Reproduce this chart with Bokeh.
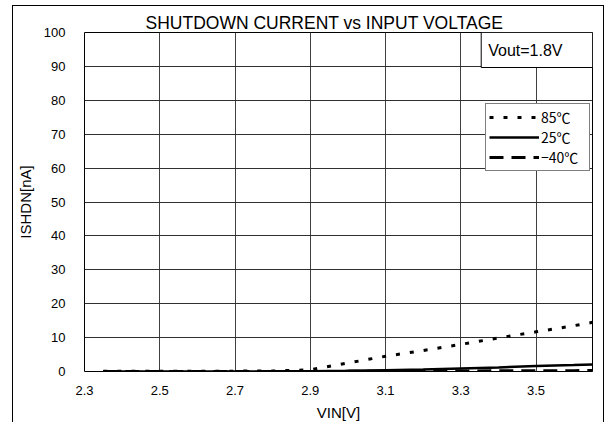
from bokeh.plotting import figure
from bokeh.models import Label, Legend, LegendItem, FixedTicker
from bokeh.embed import file_html
from bokeh.resources import INLINE

# ---- data ----
vin = [2.35, 2.4, 2.5, 2.6, 2.7, 2.8, 2.9, 3.0, 3.1, 3.2, 3.3, 3.4, 3.5, 3.6, 3.65]
ishdn_85 = [0.1, 0.1, 0.1, 0.1, 0.1, 0.15, 0.5, 2.5, 4.5, 6.2, 8.0, 9.9, 11.7, 13.5, 14.5]
ishdn_25 = [0.0, 0.0, 0.0, 0.0, 0.0, 0.05, 0.1, 0.2, 0.4, 0.6, 0.9, 1.2, 1.6, 1.9, 2.1]
ishdn_m40 = [0.0, 0.0, 0.0, 0.0, 0.0, 0.0, 0.0, 0.05, 0.1, 0.1, 0.15, 0.2, 0.2, 0.25, 0.3]
series_labels = ["85℃", "25℃", "−40℃"]
x_ticks = [2.3, 2.5, 2.7, 2.9, 3.1, 3.3, 3.5]
y_ticks = [0, 10, 20, 30, 40, 50, 60, 70, 80, 90, 100]
x_lim = (2.3, 3.65)
y_lim = (0, 100)
title_text = "SHUTDOWN CURRENT vs INPUT VOLTAGE"
note_text = "Vout=1.8V"

FONT = "Liberation Sans"
JP = "Noto Sans CJK JP"

W, H = 592, 417
ML, MR, MT, MB = 69, 13, 26, 52

p = figure(width=W, height=H, x_range=x_lim, y_range=y_lim,
           output_backend="svg", toolbar_location=None,
           min_border_left=ML, min_border_right=MR,
           min_border_top=MT, min_border_bottom=MB)
# outer chart border drawn by the page element around the canvas
p.styles = {"margin-left": "12px", "margin-top": "5px",
            "border-left": "1px solid black", "border-top": "1px solid black",
            "border-right": "1px solid black"}
p.background_fill_color = "white"
p.border_fill_color = "white"
p.outline_line_color = "black"
p.outline_line_width = 1

# title
p.title.text = title_text
p.title.align = "left"
p.title.offset = 61
p.title.standoff = 0
p.title.text_font = FONT
p.title.text_font_size = "17.5px"
p.title.text_font_style = "normal"
p.title.text_color = "black"

# axes
p.xaxis.ticker = FixedTicker(ticks=x_ticks)
p.yaxis.ticker = FixedTicker(ticks=y_ticks)
p.xaxis.major_label_overrides = {t: f"{t:.1f}" for t in x_ticks}
for ax in (p.xaxis[0], p.yaxis[0]):
    ax.axis_line_color = None
    ax.major_tick_line_color = None
    ax.minor_tick_line_color = None
    ax.major_tick_in = 0
    ax.major_tick_out = 0
    ax.major_label_text_font = FONT
    ax.major_label_text_font_size = "13px"
    ax.major_label_text_color = "black"
    ax.axis_label_text_font = FONT
    ax.axis_label_text_font_size = "15px"
    ax.axis_label_text_font_style = "normal"
    ax.axis_label_text_color = "black"
p.xaxis.major_label_standoff = 14
p.xaxis.axis_label = "VIN[V]"
p.xaxis.axis_label_standoff = 6
p.yaxis.major_label_standoff = 19
p.yaxis.axis_label = "ISHDN[nA]"
p.yaxis.axis_label_standoff = 7

p.xgrid.grid_line_color = "#404040"
p.ygrid.grid_line_color = "#303030"
p.xgrid.grid_line_width = 1
p.ygrid.grid_line_width = 1

# series
r85 = p.line(vin, ishdn_85, line_color="black", line_width=3, line_dash="4 10")
r25 = p.line(vin, ishdn_25, line_color="black", line_width=2.5)
rm40 = p.line(vin, ishdn_m40, line_color="black", line_width=3, line_dash="14 8")

legend = Legend(items=[LegendItem(label=series_labels[0], renderers=[r85]),
                       LegendItem(label=series_labels[1], renderers=[r25]),
                       LegendItem(label=series_labels[2], renderers=[rm40])],
                location=(401, 200), margin=0, padding=3, spacing=0,
                glyph_width=50, glyph_height=20, label_height=20, label_width=45,
                label_standoff=2, label_text_font=JP, label_text_font_size="14px",
                label_text_color="black",
                border_line_color="black", border_line_width=1,
                background_fill_color="white", background_fill_alpha=1)
p.add_layout(legend)

# Vout box
p.add_layout(Label(x=x_lim[1], y=y_lim[1], anchor="top_right", text=note_text,
                   text_font=FONT, text_font_size="16px", text_color="black",
                   padding=dict(left=7, right=30, top=9, bottom=9),
                   border_line_color="black", border_line_width=1,
                   background_fill_color="white", background_fill_alpha=1))

open("out.html", "w").write(file_html(p, INLINE))
